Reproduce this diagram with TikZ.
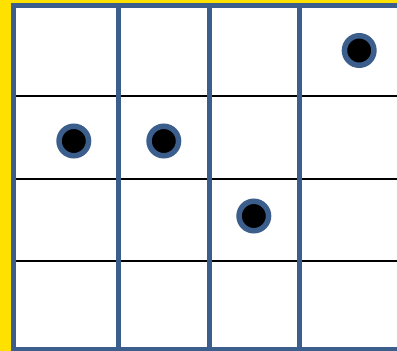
\documentclass[tikz,border=0pt]{standalone}
\begin{document}
\begin{tikzpicture}[x=1pt,y=-1pt,
  frame/.style={draw=gridblue,line width=5pt},
  rowline/.style={draw=black,line width=1.8pt},
  dot/.style={circle,fill=black,draw=gridblue,line width=5.5pt,minimum size=29.5pt,inner sep=0pt}]
\definecolor{gridblue}{HTML}{3B5E8C}
\definecolor{bannery}{HTML}{FFE100}
\useasboundingbox (0,0) rectangle (397,351);
\fill[bannery] (0,0) rectangle (397,351);
\fill[white] (11,3) rectangle (397,351);
\draw[rowline] (14,96) -- (397,96);
\draw[rowline] (14,179) -- (397,179);
\draw[rowline] (14,261) -- (397,261);
\draw[frame] (13.5,3) -- (13.5,351);
\draw[frame] (11,5.5) -- (397,5.5);
\draw[frame] (11,349.8) -- (397,349.8);
\draw[frame] (118.5,3) -- (118.5,351);
\draw[frame] (209,3) -- (209,351);
\draw[frame] (299,3) -- (299,351);
\node[dot] (d1) at (73.8,141) {};
\node[dot] (d2) at (163.8,141) {};
\node[dot] (d3) at (253.8,216) {};
\node[dot] (d4) at (359.2,50.5) {};
\end{tikzpicture}
\end{document}
